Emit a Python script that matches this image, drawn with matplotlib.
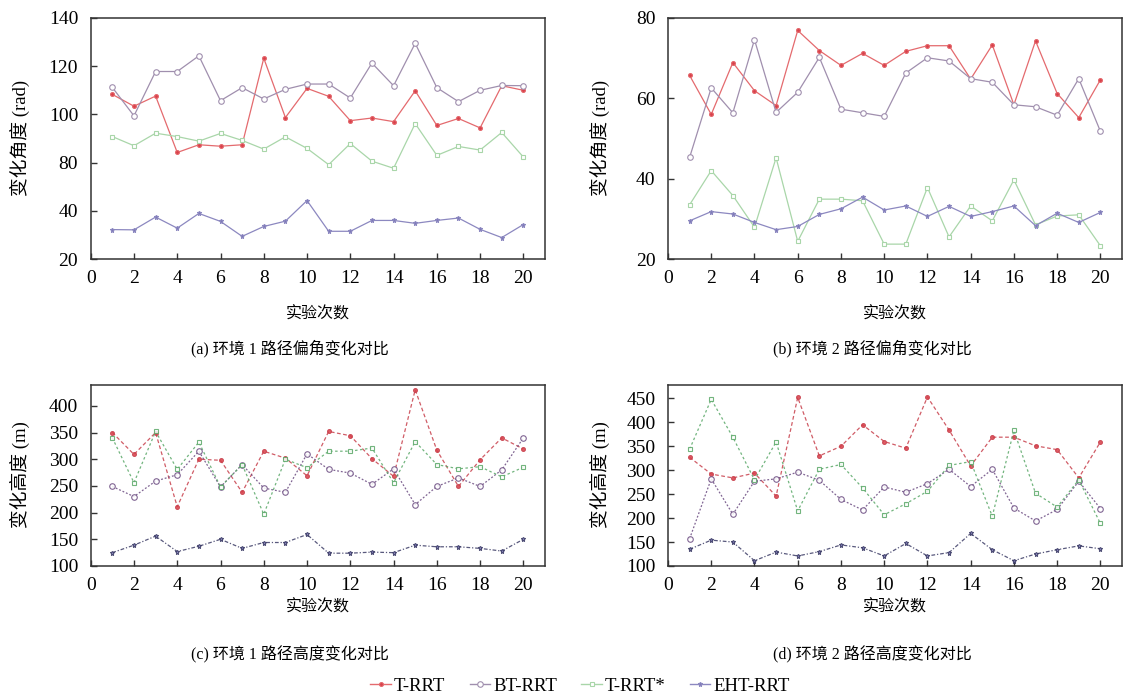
import numpy as np
import matplotlib
matplotlib.use("Agg")
import matplotlib.pyplot as plt
from matplotlib.lines import Line2D

plt.rcParams['font.family'] = ['Liberation Serif', 'Noto Sans CJK SC']
plt.rcParams['mathtext.fontset'] = 'stix'

runs = list(range(1, 21))
series_names = ['T-RRT', 'BT-RRT', 'T-RRT*', 'EHT-RRT']

# (a) Environment 1 path deflection angle change (rad)
a_trrt = [108.3, 103.4, 107.6, 84.2, 87.4, 86.8, 87.4, 123.3, 98.7, 110.8,
          107.5, 97.4, 98.5, 97.0, 109.8, 95.4, 98.3, 94.4, 111.9, 110.0]
a_btrrt = [111.2, 99.4, 117.8, 117.8, 124.3, 105.7, 111.1, 106.4, 110.4, 112.6,
           112.6, 106.8, 121.3, 111.9, 129.5, 111.1, 105.3, 110.0, 112.0, 111.9]
a_trrtstar = [90.8, 87.0, 92.2, 90.8, 88.9, 92.1, 89.2, 85.6, 90.7, 85.9,
              78.3, 87.9, 80.6, 75.3, 96.2, 83.0, 86.7, 85.2, 92.5, 82.3]
a_ehtrrt = [32.2, 32.1, 37.4, 32.8, 38.9, 35.6, 29.4, 33.5, 35.7, 48.5,
            31.5, 31.5, 36.0, 36.0, 34.8, 36.0, 37.0, 32.3, 28.9, 34.3]

# (b) Environment 2 path deflection angle change (rad)
b_trrt = [65.7, 56.0, 68.9, 61.9, 58.2, 76.9, 71.9, 68.2, 71.2, 68.2,
          71.7, 73.1, 73.1, 64.8, 73.3, 58.4, 74.3, 61.2, 55.2, 64.6]
b_btrrt = [45.3, 62.6, 56.4, 74.6, 56.5, 61.5, 70.2, 57.3, 56.4, 55.5,
           66.3, 70.1, 69.3, 64.9, 64.0, 58.4, 57.9, 55.8, 64.9, 51.8]
b_trrtstar = [33.5, 42.0, 35.8, 27.9, 45.2, 24.4, 34.9, 34.9, 34.5, 23.7,
              23.7, 37.8, 25.5, 33.2, 29.5, 39.7, 28.5, 30.7, 31.0, 23.3]
b_ehtrrt = [29.5, 31.8, 31.2, 29.1, 27.3, 28.1, 31.1, 32.5, 35.4, 32.2,
            33.2, 30.6, 33.1, 30.6, 31.8, 33.2, 28.3, 31.4, 29.1, 31.6]

# (c) Environment 1 path height change (m)
c_trrt = [350, 309, 350, 211, 300, 298, 238, 315, 302, 269,
          352, 344, 301, 268, 430, 317, 249, 299, 340, 319]
c_btrrt = [249, 230, 259, 271, 315, 248, 290, 246, 238, 310,
           281, 274, 253, 282, 215, 249, 265, 249, 280, 340]
c_trrtstar = [340, 256, 352, 281, 332, 248, 290, 197, 300, 284,
              315, 315, 321, 256, 333, 290, 282, 286, 267, 285]
c_ehtrrt = [125, 139, 156, 127, 137, 150, 133, 144, 144, 159,
            124, 124, 126, 125, 139, 136, 136, 133, 128, 150]

# (d) Environment 2 path height change (m)
d_trrt = [327, 292, 284, 294, 246, 452, 330, 350, 395, 360,
          346, 453, 384, 309, 369, 369, 351, 343, 284, 359]
d_btrrt = [157, 282, 208, 277, 282, 296, 279, 239, 217, 265,
           254, 272, 302, 266, 302, 221, 194, 218, 277, 220]
d_trrtstar = [344, 448, 369, 280, 359, 215, 302, 312, 263, 207,
              230, 256, 310, 318, 204, 383, 252, 223, 280, 189]
d_ehtrrt = [135, 154, 150, 111, 129, 121, 130, 144, 138, 121,
            147, 121, 128, 168, 134, 111, 125, 134, 142, 136]

xticks = [0, 2, 4, 6, 8, 10, 12, 14, 16, 18, 20]
a_yticks = [20, 40, 80, 100, 120, 140]
b_yticks = [20, 40, 60, 80]
c_yticks = [100, 150, 200, 250, 300, 350, 400]
d_yticks = [100, 150, 200, 250, 300, 350, 400, 450]

captions = ['(a) 环境 1 路径偏角变化对比', '(b) 环境 2 路径偏角变化对比',
            '(c) 环境 1 路径高度变化对比', '(d) 环境 2 路径高度变化对比']
xlabel = '实验次数'
ylabel_angle = '变化角度 (rad)'
ylabel_height = '变化高度 (m)'

# styles
top_colors = ['#e46a6e', '#a08fae', '#a9d6a9', '#8c88c0']
top_mfc = ['#d9404a', 'white', 'white', '#7c78b8']
bot_colors = ['#c8404c', '#6a4a80', '#5aa868', '#3c3c66']
markers = ['o', 'o', 's', '*']
msizes = [2.8, 4.0, 3.2, 3.6]

# broken-looking axis of panel (a): 80..40 occupies one tick interval
def fwd(y):
    y = np.asarray(y, dtype=float)
    return np.where(y >= 80, y, np.where(y >= 40, 60 + (y - 40) / 2.0, y + 20))

def inv(f):
    f = np.asarray(f, dtype=float)
    return np.where(f >= 80, f, np.where(f >= 60, 40 + (f - 60) * 2.0, f - 20))

fig = plt.figure(figsize=(11.23, 6.98), dpi=100)
W, H = 1123.0, 698.0

def mkax(l, r, t, b):
    return fig.add_axes([l / W, 1 - b / H, (r - l) / W, (b - t) / H])

ax_a = mkax(90.7, 545, 18, 259)
ax_b = mkax(668, 1122, 18, 259)
ax_c = mkax(90.7, 545, 385, 566)
ax_d = mkax(668, 1122, 385, 566)

def style(ax):
    for s in ax.spines.values():
        s.set_color('#333333')
        s.set_linewidth(1.1)
    ax.tick_params(direction='in', length=4.5, width=1.0, colors='#333333',
                   labelcolor='black', labelsize=14, top=False, right=False)
    ax.tick_params(axis='x', pad=8)
    ax.tick_params(axis='y', pad=9)
    ax.set_xlim(0, 21)
    ax.set_xticks(xticks)

def plot_top(ax, data):
    for i, ys in enumerate(data):
        ax.plot(runs, ys, color=top_colors[i], lw=0.9, marker=markers[i],
                ms=msizes[i], mfc=top_mfc[i], mec=top_colors[i], mew=0.8,
                zorder=3 + i)

def plot_bot(ax, data):
    styles = [(0, (3, 2)), (0, (1.5, 1.5)), (0, (2, 2)), (0, (3, 1.5, 1, 1.5))]
    for i, ys in enumerate(data):
        ax.plot(runs, ys, color=bot_colors[i], lw=0.9, ls=styles[i],
                marker=markers[i], ms=msizes[i], mfc=top_mfc[i],
                mec=bot_colors[i], mew=0.8, alpha=0.85, zorder=3 + i)

# (a)
style(ax_a)
ax_a.set_yscale('function', functions=(fwd, inv))
plot_top(ax_a, [a_trrt, a_btrrt, a_trrtstar, a_ehtrrt])
ax_a.set_ylim(20, 140)
ax_a.set_yticks(a_yticks)
ax_a.set_yticklabels([str(v) for v in a_yticks])
ax_a.yaxis.set_minor_locator(matplotlib.ticker.NullLocator())

# (b)
style(ax_b)
plot_top(ax_b, [b_trrt, b_btrrt, b_trrtstar, b_ehtrrt])
ax_b.set_ylim(20, 80)
ax_b.set_yticks(b_yticks)

# (c)
style(ax_c)
plot_bot(ax_c, [c_trrt, c_btrrt, c_trrtstar, c_ehtrrt])
ax_c.set_ylim(100, 439)
ax_c.set_yticks(c_yticks)

# (d)
style(ax_d)
plot_bot(ax_d, [d_trrt, d_btrrt, d_trrtstar, d_ehtrrt])
ax_d.set_ylim(100, 478)
ax_d.set_yticks(d_yticks)

fam = ['Liberation Serif', 'Noto Sans CJK SC']
# labels
for cx, cy, lab in [(20, 138, ylabel_angle), (600, 138, ylabel_angle),
                    (20, 475, ylabel_height), (600, 475, ylabel_height)]:
    fig.text(cx / W, 1 - cy / H, lab, rotation=90, ha='center', va='center',
             fontsize=13.5, family=fam)
for cx, cy in [(318, 315), (895, 315), (318, 608), (895, 608)]:
    fig.text(cx / W, 1 - cy / H, xlabel, ha='center', va='center',
             fontsize=11.5, family=fam)
for (cx, cy), cap in zip([(290, 349), (872, 349), (290, 655), (872, 655)], captions):
    fig.text(cx / W, 1 - cy / H, cap, ha='center', va='center',
             fontsize=11.5, family=fam)

handles = [Line2D([0], [0], color=top_colors[i], lw=1.0, marker=markers[i],
                  ms=msizes[i], mfc=top_mfc[i], mec=top_colors[i], mew=0.8)
           for i in range(4)]
fig.legend(handles, series_names, loc='center', bbox_to_anchor=(580 / W, 1 - 686 / H),
           ncol=4, frameon=False, fontsize=13.5, handlelength=1.1,
           handletextpad=0.15, columnspacing=1.3, borderpad=0.1)

fig.savefig('out.png', dpi=100)
